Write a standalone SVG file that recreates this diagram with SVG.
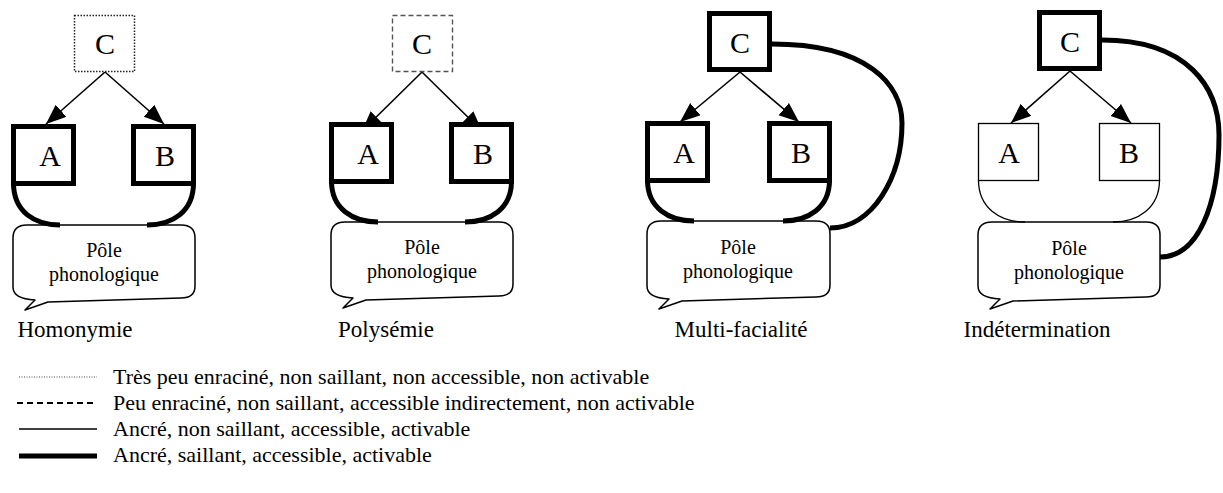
<svg xmlns="http://www.w3.org/2000/svg" width="1223" height="493" viewBox="0 0 1223 493" font-family="'Liberation Serif', 'Times New Roman', serif">
<style>
text{font-family:"Liberation Serif","Times New Roman",serif;fill:#000}
.box{fill:#fff;stroke:#000}
.thick{stroke-width:5}
.thin{stroke-width:1.3}
.dotted{stroke:#222;stroke-width:1.5;stroke-dasharray:1.5 1.5;fill:#fff}
.dashed{stroke:#555;stroke-width:1.4;stroke-dasharray:5 3;fill:#fff}
.letter{font-size:30px;text-anchor:middle}
.pole{font-size:20px;text-anchor:middle}
.label{font-size:23px;text-anchor:middle}
.leg{font-size:22px}
.bubble{fill:#fff;stroke:#000;stroke-width:1.5;stroke-linejoin:round}
.arc{fill:none;stroke:#000}
.arrow{stroke:#000;stroke-width:1.6;fill:none;marker-end:url(#ah)}
.link{fill:none;stroke:#000;stroke-width:5}
</style>
<defs>
<marker id="ah" markerUnits="userSpaceOnUse" markerWidth="22" markerHeight="18" refX="20" refY="8" orient="auto">
<path d="M0,0 L20,8 L0,16 Z" fill="#000"/>
</marker>
</defs>

<g id="connectors">
<line class="arrow" x1="105" y1="72" x2="46" y2="124"/>
<line class="arrow" x1="105" y1="72" x2="164" y2="124"/>
<line class="arrow" x1="422" y1="72" x2="362" y2="131"/>
<line class="arrow" x1="422" y1="72" x2="482" y2="131"/>
<line class="arrow" x1="740" y1="72" x2="680" y2="122"/>
<line class="arrow" x1="740" y1="72" x2="799" y2="122"/>
<line class="arrow" x1="1070" y1="71" x2="1011" y2="123"/>
<line class="arrow" x1="1070" y1="71" x2="1131" y2="123"/>
<path class="link" d="M772,44 C868,44 902,85 902,123 C902,178 872,228 830,228"/>
<path class="link" d="M1102,40 C1188,40 1219,88 1219,135 C1219,205 1198,257 1160,257"/>
</g>

<g id="homonymie">
<rect class="dotted" x="74.5" y="15.5" width="60" height="56"/>
<text class="letter" x="105" y="54">C</text>
<path class="bubble" d="M27,225 H181 Q195,225 195,238 V286 Q195,298 181,298 L48,302 L25,310 L35,300 Q13,299 13,287 V238 Q13,225 27,225 Z"/>
<path class="arc thick" d="M13.5,183 C13.5,212 35,225 60,225"/>
<path class="arc thick" d="M193.5,183 C193.5,212 172,225 147,225"/>
<rect class="box thick" x="13.5" y="126.5" width="60" height="57"/>
<text class="letter" x="50" y="166">A</text>
<rect class="box thick" x="133.5" y="126.5" width="60" height="57"/>
<text class="letter" x="165" y="166">B</text>
<text class="pole" x="104" y="257">Pôle</text>
<text class="pole" x="104" y="281">phonologique</text>
<text class="label" x="75" y="337">Homonymie</text>
</g>

<g id="polysemie">
<rect class="dashed" x="392.5" y="15.5" width="60" height="56"/>
<text class="letter" x="422" y="54">C</text>
<path class="bubble" d="M345,222 H499 Q513,222 513,235 V284 Q513,296 499,296 L366,300 L343,308 L353,298 Q331,297 331,285 V235 Q331,222 345,222 Z"/>
<path class="arc thick" d="M331.5,181 C331.5,209 353,222 378,222"/>
<path class="arc thick" d="M511.5,181 C511.5,209 490,222 465,222"/>
<rect class="box thick" x="331.5" y="124.5" width="60" height="57"/>
<text class="letter" x="368" y="164">A</text>
<rect class="box thick" x="451.5" y="124.5" width="60" height="57"/>
<text class="letter" x="483" y="164">B</text>
<text class="pole" x="422" y="254">Pôle</text>
<text class="pole" x="422" y="278">phonologique</text>
<text class="label" x="386" y="337">Polysémie</text>
</g>

<g id="multifacialite">
<rect class="box thick" x="709.5" y="13.5" width="60" height="56"/>
<text class="letter" x="740" y="53">C</text>
<path class="bubble" d="M661,221 H816 Q830,221 830,234 V285 Q830,297 816,297 L682,301 L659,309 L669,299 Q647,298 647,286 V234 Q647,221 661,221 Z"/>
<path class="arc thick" d="M647.5,180 C647.5,208 669,221 694,221"/>
<path class="arc thick" d="M829.5,180 C829.5,208 808,221 783,221"/>
<rect class="box thick" x="647.5" y="123.5" width="60" height="57"/>
<text class="letter" x="684" y="163">A</text>
<rect class="box thick" x="769.5" y="123.5" width="60" height="57"/>
<text class="letter" x="801" y="163">B</text>
<text class="pole" x="738" y="254">Pôle</text>
<text class="pole" x="738" y="278">phonologique</text>
<text class="label" x="741" y="337">Multi-facialité</text>
</g>

<g id="indetermination">
<rect class="box thick" x="1039.5" y="12.5" width="60" height="56"/>
<text class="letter" x="1070" y="52">C</text>
<path class="bubble" d="M992,222 H1146 Q1160,222 1160,235 V285 Q1160,297 1146,297 L1013,301 L990,309 L1000,299 Q978,298 978,286 V235 Q978,222 992,222 Z"/>
<path class="arc thin" d="M978.5,180 C978.5,208 1000,222 1025,222"/>
<path class="arc thin" d="M1159.5,180 C1159.5,208 1138,222 1113,222"/>
<rect class="box thin" x="978.5" y="123.5" width="60" height="57"/>
<text class="letter" x="1009" y="163">A</text>
<rect class="box thin" x="1099.5" y="123.5" width="60" height="57"/>
<text class="letter" x="1129" y="163">B</text>
<text class="pole" x="1069" y="255">Pôle</text>
<text class="pole" x="1069" y="279">phonologique</text>
<text class="label" x="1037" y="337">Indétermination</text>
</g>

<g id="legend">
<line x1="19" y1="377" x2="97" y2="377" stroke="#444" stroke-width="1" stroke-dasharray="1 1.5"/>
<line x1="17" y1="403" x2="95" y2="403" stroke="#000" stroke-width="2" stroke-dasharray="6 4"/>
<line x1="19" y1="429" x2="97" y2="429" stroke="#000" stroke-width="1.6"/>
<line x1="19" y1="456" x2="97" y2="456" stroke="#000" stroke-width="5"/>
<text class="leg" x="113" y="384">Très peu enraciné, non saillant, non accessible, non activable</text>
<text class="leg" x="113" y="410">Peu enraciné, non saillant, accessible indirectement, non activable</text>
<text class="leg" x="113" y="436">Ancré, non saillant, accessible, activable</text>
<text class="leg" x="113" y="462">Ancré, saillant, accessible, activable</text>
</g>
</svg>
